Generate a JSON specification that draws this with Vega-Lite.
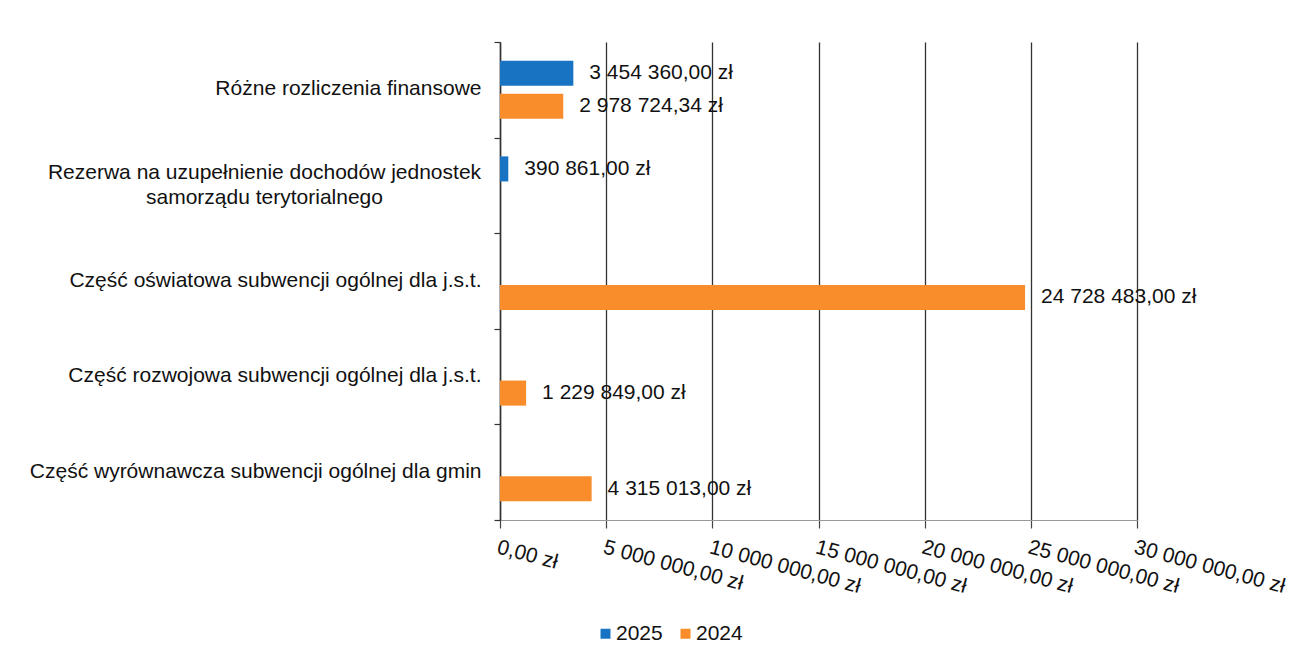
{
  "$schema": "https://vega.github.io/schema/vega-lite/v6.json",
  "width": 637,
  "height": 478,
  "autosize": {"type": "none"},
  "padding": {"left": 500, "top": 42, "right": 168, "bottom": 141},
  "background": "white",
  "config": {
    "locale": {"number": {"decimal": ",", "thousands": " ", "grouping": [3], "currency": ["", " zł"]}},
    "font": "Liberation Sans",
    "view": {"stroke": null}
  },
  "data": {
    "values": [
      {"category": "Różne rozliczenia finansowe", "year": "2025", "value": 3454360.00},
      {"category": "Różne rozliczenia finansowe", "year": "2024", "value": 2978724.34},
      {"category": "Rezerwa na uzupełnienie dochodów jednostek samorządu terytorialnego", "year": "2025", "value": 390861.00},
      {"category": "Część oświatowa subwencji ogólnej dla j.s.t.", "year": "2024", "value": 24728483.00},
      {"category": "Część rozwojowa subwencji ogólnej dla j.s.t.", "year": "2024", "value": 1229849.00},
      {"category": "Część wyrównawcza subwencji ogólnej dla gmin", "year": "2024", "value": 4315013.00}
    ]
  },
  "encoding": {
    "y": {
      "field": "category",
      "type": "nominal",
      "sort": null,
      "scale": {"paddingInner": 0, "paddingOuter": 0},
      "axis": {
        "title": null,
        "domainColor": "#333333",
        "domainWidth": 1.5,
        "tickColor": "#333333",
        "tickWidth": 1.2,
        "tickSize": 6,
        "tickBand": "extent",
        "labelFontSize": 21,
        "labelColor": "#111111",
        "labelAlign": {"condition": {"test": "datum.value == 'Rezerwa na uzupełnienie dochodów jednostek samorządu terytorialnego'", "value": "center"}, "value": "right"},
        "labelPadding": {"condition": {"test": "datum.value == 'Rezerwa na uzupełnienie dochodów jednostek samorządu terytorialnego'", "value": 230}, "value": 13},
        "labelOffset": {"condition": {"test": "datum.value == 'Rezerwa na uzupełnienie dochodów jednostek samorządu terytorialnego'", "value": -13}, "value": -1},
        "labelLimit": 600,
        "labelLineHeight": 25,
        "labelExpr": "datum.value == 'Rezerwa na uzupełnienie dochodów jednostek samorządu terytorialnego' ? ['Rezerwa na uzupełnienie dochodów jednostek', 'samorządu terytorialnego'] : datum.value"
      }
    },
    "yOffset": {
      "field": "year",
      "type": "nominal",
      "scale": {"domain": ["2025", "2024"], "paddingInner": 0.24, "paddingOuter": 0.57}
    },
    "x": {
      "field": "value",
      "type": "quantitative",
      "scale": {"domain": [0, 30000000], "nice": false},
      "axis": {
        "title": null,
        "values": [0, 5000000, 10000000, 15000000, 20000000, 25000000, 30000000],
        "format": "$,.2f",
        "labelAngle": 15,
        "labelAlign": "left",
        "labelBaseline": "top",
        "labelFontSize": 21,
        "labelColor": "#111111",
        "labelPadding": 8,
        "labelFlush": false,
        "labelOverlap": false,
        "labelLimit": 400,
        "tickSize": 8,
        "tickColor": "#444444",
        "tickWidth": 1.2,
        "domainColor": "#999999",
        "domainWidth": 1.2,
        "grid": true,
        "gridColor": "#333333",
        "gridWidth": 1.3
      }
    }
  },
  "layer": [
    {
      "mark": {"type": "bar"},
      "encoding": {
        "color": {
          "field": "year",
          "type": "nominal",
          "scale": {"domain": ["2025", "2024"], "range": ["#1874c3", "#f98c2b"]},
          "legend": {
            "orient": "none",
            "legendX": 95,
            "legendY": 581,
            "direction": "horizontal",
            "title": null,
            "symbolType": "square",
            "symbolSize": 100,
            "symbolStrokeWidth": 0,
            "labelFontSize": 21,
            "labelColor": "#111111",
            "labelOffset": 0,
            "columnPadding": 12,
            "padding": 0
          }
        }
      }
    },
    {
      "mark": {"type": "text", "align": "left", "baseline": "middle", "dx": 16, "fontSize": 21, "color": "#111111"},
      "encoding": {
        "text": {"field": "value", "type": "quantitative", "format": "$,.2f"}
      }
    }
  ]
}
